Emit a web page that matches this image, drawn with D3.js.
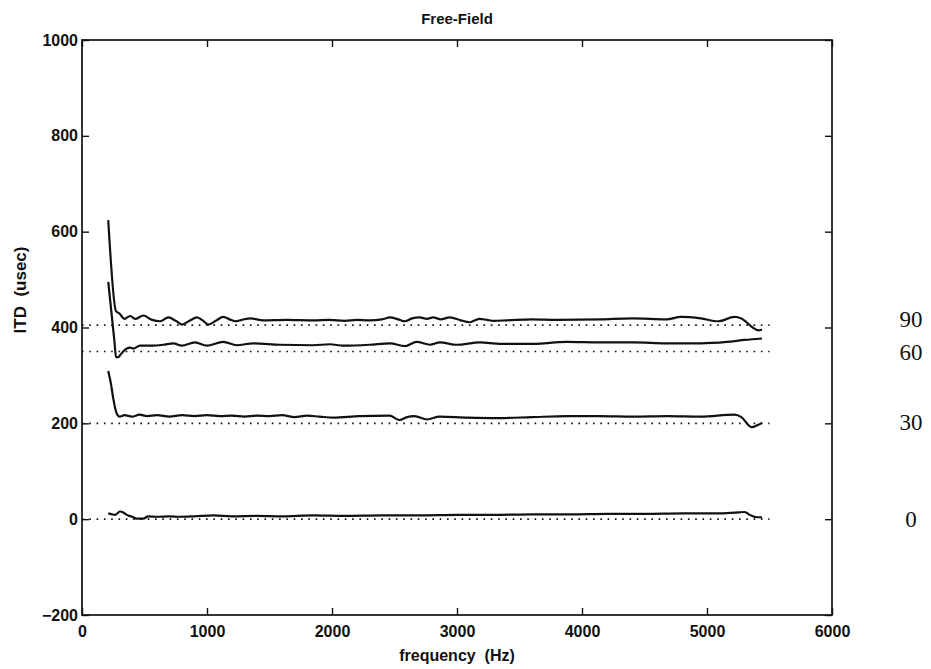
<!DOCTYPE html>
<html>
<head>
<meta charset="utf-8">
<script src="https://cdn.jsdelivr.net/npm/d3@7"></script>
<style>
  html, body { margin: 0; padding: 0; background: #fff; }
  svg { display: block; }
  text { fill: #111; }
</style>
</head>
<body>
<svg id="chart" width="931" height="669"></svg>
<script>
// ---------- data ----------
const xTicks = [0, 1000, 2000, 3000, 4000, 5000, 6000];
const yTicks = [-200, 0, 200, 400, 600, 800, 1000];

const angleLabels = ["90", "60", "30", "0"];
const refITD = [405, 350, 200, 0];          // dotted reference lines (usec)
const labelPos = [418, 350, 202, 0];        // label vertical positions (usec)
const refStart = 0, refEnd = 5500;

const freq90 = [210,272,300,340,385,425,490,560,625,690,750,800,860,920,970,1010,1070,1130,1180,1225,1280,1345,1450,1640,1850,1980,2100,2200,2300,2400,2465,2530,2585,2640,2700,2760,2810,2870,2940,3030,3100,3180,3240,3290,3400,3600,3800,4150,4400,4680,4790,4950,5090,5220,5275,5360,5410,5440];
const itd90  = [624,434,429,418,424,418,425,416,413,421,414,406,414,421,414,406,414,422,417,413,416,419,415,416,415,416,414,416,415,417,421,417,413,419,421,418,421,417,421,415,411,418,416,414,415,417,416,417,419,417,422,419,413,422,419,401,394,396];

const freq60 = [210,240,260,272,290,304,330,358,384,410,464,550,650,730,798,904,998,1130,1238,1370,1584,1848,1984,2090,2300,2464,2584,2677,2784,2864,2997,3184,3344,3608,3877,4144,4414,4680,4950,5160,5302,5440];
const itd60  = [495,420,370,338,338,342,350,356,358,356,362,362,364,367,362,369,362,370,363,367,364,363,365,362,364,367,361,370,364,369,364,369,366,366,370,369,369,367,367,370,374,377];

const freq30 = [210,230,250,265,280,300,340,400,460,520,600,700,800,900,1000,1100,1200,1300,1400,1500,1600,1700,1800,1900,2010,2220,2460,2540,2600,2660,2760,2860,3080,3340,3600,3880,4140,4410,4680,4950,5220,5275,5356,5410,5440];
const itd30  = [309,285,252,232,219,214,217,214,218,215,217,214,217,215,217,215,216,214,216,215,217,213,216,214,212,215,216,207,213,215,208,214,212,211,213,215,215,214,215,214,218,213,192,197,201];

const freq0 = [210,240,264,304,330,358,400,438,490,530,600,700,784,900,1050,1200,1400,1600,1848,2100,2400,2700,3000,3300,3600,3900,4200,4500,4800,5100,5250,5300,5350,5400,5440];
const itd0  = [12,10,9,16,14,9,5,1,1,6,5,6,5,6,8,6,7,6,8,7,8,8,9,9,10,10,11,11,12,12,14,15,8,4,4];

// ---------- layout ----------
const svg = d3.select("#chart");
const L = 82, R = 832, T = 40, B = 615;
const x = d3.scaleLinear().domain([0, 6000]).range([L, R]);
const y = d3.scaleLinear().domain([-200, 1000]).range([B, T]);
const font = "'Liberation Sans', Arial, Helvetica, sans-serif";

// reference dotted lines
svg.append("g").selectAll("line").data(refITD).join("line")
  .attr("x1", x(refStart)).attr("x2", x(refEnd))
  .attr("y1", d => y(d)).attr("y2", d => y(d))
  .attr("stroke", "#111").attr("stroke-width", 1.6)
  .attr("stroke-dasharray", "1.6 5.7");

// curves
const series = [
  { f: freq90, v: itd90 },
  { f: freq60, v: itd60 },
  { f: freq30, v: itd30 },
  { f: freq0,  v: itd0 }
];
const line = d3.line().x(d => x(d[0])).y(d => y(d[1])).curve(d3.curveMonotoneX);
svg.append("g").selectAll("path").data(series).join("path")
  .attr("d", s => line(s.f.map((f, i) => [f, s.v[i]])))
  .attr("fill", "none").attr("stroke", "#111")
  .attr("stroke-width", 2.2).attr("stroke-linejoin", "round");

// axes (inward ticks, MATLAB style)
const tickLen = 7;
const gB = svg.append("g").attr("transform", `translate(0,${B})`)
  .call(d3.axisBottom(x).tickValues(xTicks).tickSize(-tickLen).tickFormat(d3.format("d")));
const gT = svg.append("g").attr("transform", `translate(0,${T})`)
  .call(d3.axisTop(x).tickValues(xTicks).tickSize(-tickLen).tickFormat(""));
const gL = svg.append("g").attr("transform", `translate(${L},0)`)
  .call(d3.axisLeft(y).tickValues(yTicks).tickSize(-tickLen).tickFormat(d3.format("d")));
const gR = svg.append("g").attr("transform", `translate(${R},0)`)
  .call(d3.axisRight(y).tickValues(yTicks).tickSize(-tickLen).tickFormat(""));

[gB, gT, gL, gR].forEach(g => {
  g.select(".domain").remove();
  g.selectAll(".tick line").attr("stroke", "#111").attr("stroke-width", 1.4);
  g.selectAll("text").attr("font-family", font).attr("font-size", 16)
    .attr("font-weight", "bold").attr("fill", "#111");
});
gL.selectAll(".tick text").attr("x", -4);
gB.selectAll(".tick text").attr("y", 11);

// frame
svg.append("rect").attr("x", L).attr("y", T).attr("width", R - L).attr("height", B - T)
  .attr("fill", "none").attr("stroke", "#111").attr("stroke-width", 1.7);

// title and axis labels
svg.append("text").attr("x", (L + R) / 2).attr("y", 24)
  .attr("text-anchor", "middle").attr("font-family", font)
  .attr("font-size", 15).attr("font-weight", "bold").text("Free-Field");

svg.append("text").attr("x", (L + R) / 2).attr("y", 661)
  .attr("text-anchor", "middle").attr("font-family", font)
  .attr("font-size", 16).attr("font-weight", "bold")
  .attr("xml:space", "preserve").style("white-space", "pre")
  .text("frequency  (Hz)");

svg.append("text").attr("transform", `translate(26,290) rotate(-90)`)
  .attr("text-anchor", "middle").attr("font-family", font)
  .attr("font-size", 17).attr("font-weight", "bold")
  .attr("xml:space", "preserve").style("white-space", "pre")
  .text("ITD  (usec)");

// angle labels on the right
svg.append("g").selectAll("text").data(angleLabels).join("text")
  .attr("x", 911).attr("y", (d, i) => y(labelPos[i]))
  .attr("dy", "0.35em").attr("text-anchor", "middle")
  .attr("font-family", "'Liberation Serif', 'Times New Roman', serif")
  .attr("font-size", 23).text(d => d);
</script>
</body>
</html>
